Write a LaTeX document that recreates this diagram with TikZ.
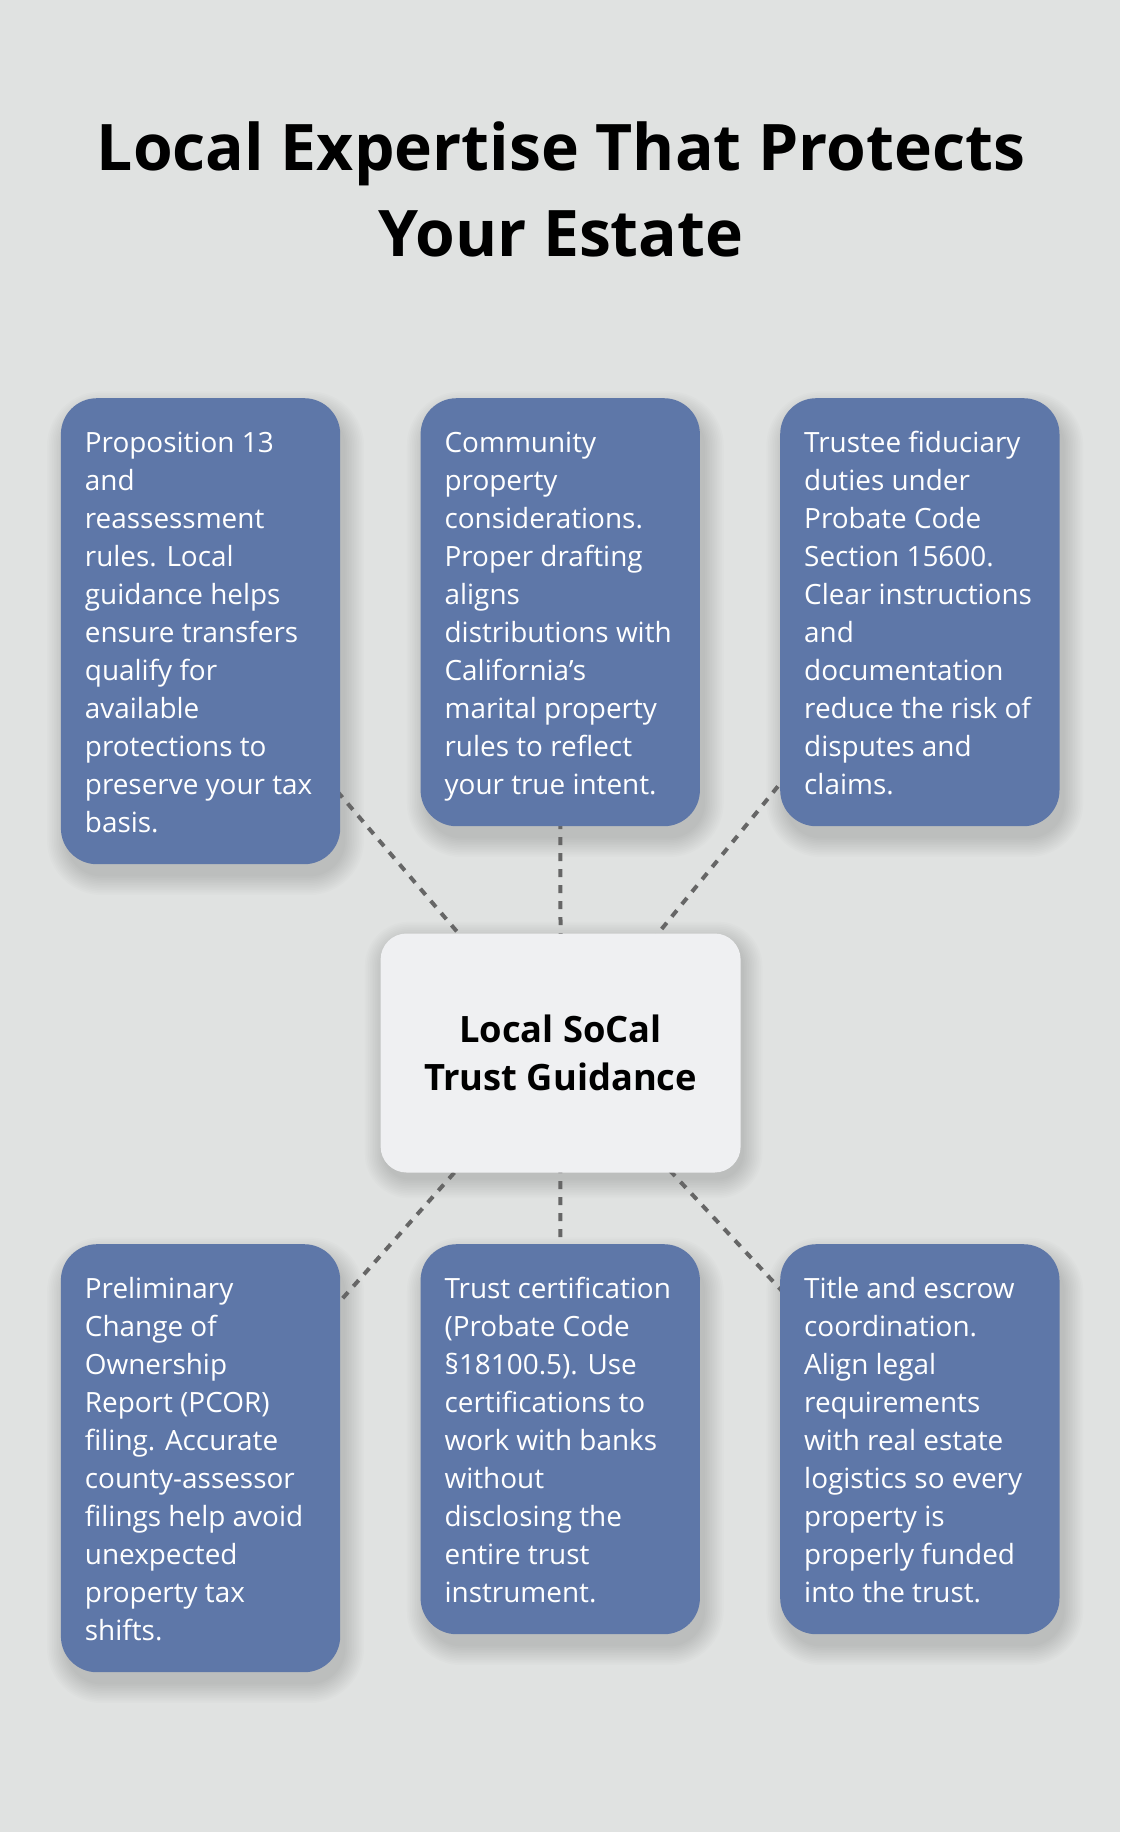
\documentclass[tikz,border=0pt]{standalone}
\usepackage{fontspec}
\setmainfont{Open Sans}
\definecolor{bgc}{HTML}{E0E2E1}
\definecolor{boxc}{HTML}{5E77A8}
\definecolor{ctrc}{HTML}{EFF0F2}
\definecolor{linec}{HTML}{666666}
\pgfdeclarelayer{back}
\pgfdeclarelayer{shade}
\pgfdeclarelayer{lines}
\pgfsetlayers{back,shade,lines,main}
\newcommand{\softshadow}[4]{% node, xshift, yshift(down), radius
  \begin{pgfonlayer}{shade}
  \foreach \k in {0,...,11}{
    \pgfmathsetmacro{\dd}{1.7*\k}
    \pgfmathsetmacro{\rr}{#4+\dd}
    \fill[black, opacity=0.013, rounded corners=\rr pt]
      ([xshift=#2pt-\dd pt, yshift=-#3pt+\dd pt]#1.north west) rectangle
      ([xshift=#2pt+\dd pt, yshift=-#3pt-\dd pt]#1.south east);
  }
  \end{pgfonlayer}}
\begin{document}
\begin{tikzpicture}[x=1pt,y=-1pt,
  card/.style={fill=boxc, rounded corners=36pt, draw=none, minimum width=279.3pt,
    inner sep=0pt, anchor=north west},
  cardtext/.style={anchor=north west, inner sep=0pt, align=left, text=white,
    font=\fontsize{27.9}{38}\selectfont, xshift=24pt, yshift=-27.5pt},
  hub/.style={fill=ctrc, rounded corners=26pt, minimum width=360pt, minimum height=239pt,
    inner sep=0pt, align=center, font=\fontsize{36.3}{47.7}\selectfont\bfseries},
  conn/.style={draw=linec, line width=4pt, dash pattern=on 8pt off 8pt},
  titletext/.style={anchor=north, inner sep=0pt, align=center,
    font=\fontsize{64.2}{86}\selectfont\bfseries}
]
\useasboundingbox (0,0) rectangle (1120,1832);
\begin{pgfonlayer}{back}
  \fill[bgc] (0,0) rectangle (1120,1832);
\end{pgfonlayer}

\node[titletext] (title) at (561,110.5) {\strut Local Expertise That Protects\\Your Estate};

\node[card, minimum height=466pt] (b1) at (60.7,398) {};
\node[card, minimum height=428pt] (b2) at (420.4,398) {};
\node[card, minimum height=428pt] (b3) at (780,398) {};
\node[card, minimum height=428pt] (b4) at (60.7,1244) {};
\node[card, minimum height=390pt] (b5) at (420.4,1244) {};
\node[card, minimum height=390pt] (b6) at (780,1244) {};

\node[cardtext] (t1) at (b1.north west) {\strut Proposition 13\\and\\reassessment\\rules. Local\\guidance helps\\ensure transfers\\qualify for\\available\\protections to\\preserve your tax\\basis.};
\node[cardtext] (t2) at (b2.north west) {\strut Community\\property\\considerations.\\Proper drafting\\aligns\\distributions with\\California’s\\marital property\\rules to reflect\\your true intent.};
\node[cardtext] (t3) at (b3.north west) {\strut Trustee fiduciary\\duties under\\Probate Code\\Section 15600.\\Clear instructions\\and\\documentation\\reduce the risk of\\disputes and\\claims.};
\node[cardtext] (t4) at (b4.north west) {\strut Preliminary\\Change of\\Ownership\\Report (PCOR)\\filing. Accurate\\county-assessor\\filings help avoid\\unexpected\\property tax\\shifts.};
\node[cardtext] (t5) at (b5.north west) {\strut Trust certification\\(Probate Code\\§18100.5). Use\\certifications to\\work with banks\\without\\disclosing the\\entire trust\\instrument.};
\node[cardtext] (t6) at (b6.north west) {\strut Title and escrow\\coordination.\\Align legal\\requirements\\with real estate\\logistics so every\\property is\\properly funded\\into the trust.};

\node[hub] (hubn) at (560.6,1053) {Local SoCal\\Trust Guidance};

\softshadow{b1}{5}{12}{36}
\softshadow{b2}{5}{12}{36}
\softshadow{b3}{5}{12}{36}
\softshadow{b4}{5}{12}{36}
\softshadow{b5}{5}{12}{36}
\softshadow{b6}{5}{12}{36}
\softshadow{hubn}{3}{7}{26}

\begin{pgfonlayer}{lines}
  \draw[conn] (hubn.center) -- (b1.center);
  \draw[conn] (hubn.center) -- (b2.center);
  \draw[conn] (hubn.center) -- (b3.center);
  \draw[conn] (hubn.center) -- (b4.center);
  \draw[conn] (hubn.center) -- (b5.center);
  \draw[conn] (hubn.center) -- (b6.center);
\end{pgfonlayer}
\end{tikzpicture}
\end{document}
